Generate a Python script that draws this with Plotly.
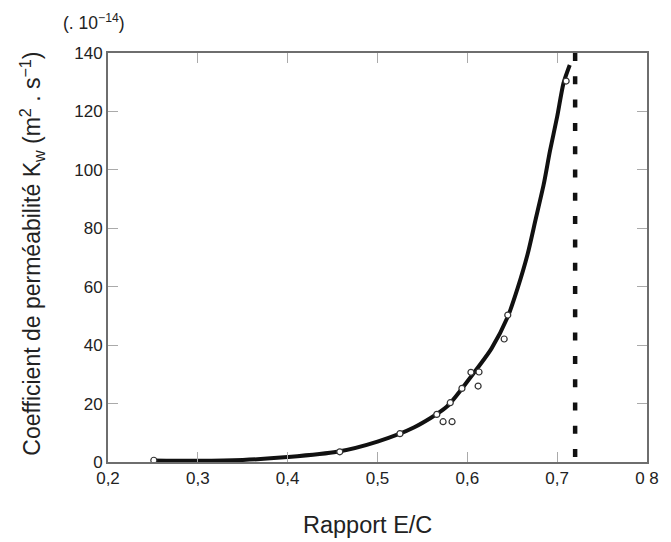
import plotly.graph_objects as go

# Measured points (E/C ratio, Kw x 1e-14)
pts_x = [0.251, 0.458, 0.525, 0.566, 0.573, 0.583, 0.581, 0.594, 0.604, 0.613, 0.612, 0.641, 0.645, 0.710]
pts_y = [0.6, 3.5, 9.7, 16.3, 13.8, 13.8, 20.3, 25.2, 30.7, 30.8, 26.0, 42.1, 50.3, 130.4]

# Fitted curve
curve_x = [0.25, 0.30, 0.35, 0.40, 0.455, 0.50, 0.541, 0.577, 0.604, 0.627, 0.645, 0.656, 0.667,
           0.676, 0.685, 0.692, 0.700, 0.707, 0.714]
curve_y = [0.5, 0.4, 0.7, 1.7, 3.5, 7.0, 11.9, 18.9, 29.2, 38.9, 49.7, 59.5, 71.0,
           83.0, 95.0, 106.5, 118.2, 129.6, 135.9]

# Limit line (drawn top to bottom)
limit_x = [0.72, 0.72]
limit_y = [140, 0]

x_ticks = [0.2, 0.3, 0.4, 0.5, 0.6, 0.7, 0.8]
x_labels = ["0,2", "0,3", "0,4", "0,5", "0,6", "0,7", "0 8"]
y_ticks = [0, 20, 40, 60, 80, 100, 120, 140]

FONT = "Liberation Sans, Arial"
TXT = "#222222"

fig = go.Figure()
fig.add_trace(go.Scatter(x=limit_x, y=limit_y, mode="lines",
                         line=dict(color="#111111", width=4.5, dash="8px,15.3px"),
                         hoverinfo="skip", showlegend=False))
fig.add_trace(go.Scatter(x=curve_x, y=curve_y, mode="lines",
                         line=dict(color="#111111", width=4, shape="spline", smoothing=0.7),
                         showlegend=False))
fig.add_trace(go.Scatter(x=pts_x, y=pts_y, mode="markers",
                         marker=dict(symbol="circle", size=6, color="white",
                                     line=dict(color="#333333", width=1.2)),
                         showlegend=False))

axis_common = dict(showgrid=False, zeroline=False, showline=True, linecolor="#6e6e6e",
                   linewidth=2, mirror="ticks", ticks="inside", ticklen=10,
                   tickcolor="#aaaaaa", tickwidth=1,
                   tickfont=dict(family=FONT, size=17, color=TXT))

fig.update_xaxes(range=[0.2, 0.8], tickvals=x_ticks, ticktext=x_labels, **axis_common)
fig.update_yaxes(range=[0, 140], tickvals=y_ticks, **axis_common)

fig.add_annotation(text="(. 10<sup>−14</sup>)", xref="paper", yref="paper",
                   x=-0.0254, y=1.0758, xanchor="center", yanchor="middle", showarrow=False,
                   font=dict(family=FONT, size=17.5, color=TXT))
fig.add_annotation(text="Coefficient de perméabilité K<sub>w</sub> (m<sup>2</sup> . s<sup>−1</sup>)",
                   xref="paper", yref="paper", x=-0.1416, y=0.5086, textangle=-90,
                   xanchor="center", yanchor="middle", showarrow=False,
                   font=dict(family=FONT, size=23, color=TXT))
fig.add_annotation(text="Rapport E/C", xref="paper", yref="paper",
                   x=0.481, y=-0.154, xanchor="center", yanchor="middle", showarrow=False,
                   font=dict(family=FONT, size=23.5, color=TXT))

fig.update_layout(width=671, height=542, margin=dict(l=108, r=12, t=53, b=80),
                  plot_bgcolor="white", paper_bgcolor="white")

fig.write_html("out.html", config={"displayModeBar": False},
               post_script="document.body.style.margin='0';document.body.style.overflow='hidden';")
